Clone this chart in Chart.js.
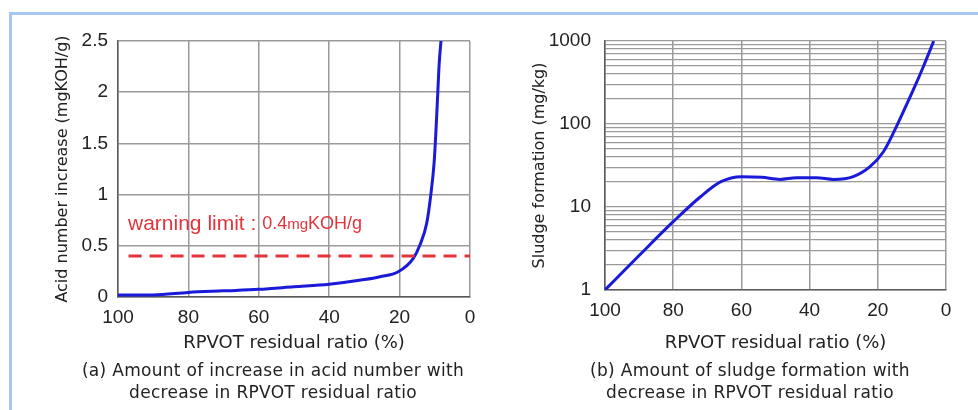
<!DOCTYPE html>
<html>
<head>
<meta charset="utf-8">
<script src="https://cdn.jsdelivr.net/npm/chart.js@4"></script>
<style>
  body { margin:0; background:#fff; width:978px; height:410px; overflow:hidden; position:relative; }
  .frame-top  { position:absolute; left:9px; top:12px; width:969px; height:3px; background:#a7c7f3; }
  .frame-left { position:absolute; left:9px; top:12px; width:3px; height:398px; background:#a7c7f3; }
  canvas { position:absolute; top:0; }
  #chartA { left:0; }
  #chartB { left:490px; }
  .caption { position:absolute; top:359px; font-family:"DejaVu Sans", sans-serif; font-size:17px; letter-spacing:0.3px; line-height:22px; color:#222; text-align:center; white-space:nowrap; }
  #capA { left:40px; width:466px; }
  #capB { left:517px; width:466px; }
</style>
</head>
<body>
<div class="frame-top"></div>
<div class="frame-left"></div>
<canvas id="chartA" width="490" height="360"></canvas>
<canvas id="chartB" width="488" height="360"></canvas>
<div class="caption" id="capA">(a) Amount of increase in acid number with<br>decrease in RPVOT residual ratio</div>
<div class="caption" id="capB">(b) Amount of sludge formation with<br>decrease in RPVOT residual ratio</div>
<script>
// dati (a): aumento numero acido
const rpvotA = [100, 90, 80, 70, 60, 50, 40, 30, 25.6, 20.4, 16.1, 14.2, 12.3, 11.2, 10.2, 9.66, 9.2, 8.75, 8.24];
const acidA  = [0.02, 0.02, 0.045, 0.06, 0.075, 0.1, 0.125, 0.17, 0.198, 0.247, 0.378, 0.51, 0.72, 0.98, 1.31, 1.63, 1.96, 2.28, 2.5];
const limitX = [97, 0];      // estensione linea tratteggiata
const limitY = 0.4;          // warning limit

// dati (b): formazione fanghi (scala log)
const rpvotB  = [100, 90, 80, 72, 66, 60, 54, 48.7, 43.8, 38, 33, 27.2, 22.3, 18.4, 15.5, 12.5, 9.6, 6.65, 3.6];
const sludgeB = [1, 2.6, 6.65, 13.3, 20.2, 23.2, 22.8, 21.5, 22.5, 22.5, 21.5, 23.2, 30.6, 46, 77, 141, 257, 490, 1000];

const xTicks = [100, 80, 60, 40, 20, 0];
const logLabels = [1, 10, 100, 1000];

const FONT  = '"Liberation Sans", Arial, sans-serif';
const TFONT = '"DejaVu Sans", sans-serif';
const BLUE = '#1a1ad8';
const RED  = '#e3333b';
const GRID = '#9a9a9a';
const AXIS = '#5a5a5a';

const pts = (xs, ys) => xs.map((x, i) => ({ x, y: ys[i] }));

function xScale(height){ // asse x comune, invertito 100 -> 0
  return {
    type:'linear', min:0, max:100, reverse:true,
    afterBuildTicks: s => { s.ticks = xTicks.map(v => ({ value:v })); },
    ticks:{ color:'#222', font:{ family:FONT, size:19 }, padding:9 },
    grid:{ color:GRID, lineWidth:1.5, drawTicks:false },
    border:{ color:AXIS, width:1.5 },
    title:{ display:true, text:'RPVOT residual ratio (%)', color:'#222', font:{ family:TFONT, size:18 }, padding:{ top:0, bottom:6 } },
    afterFit: s => { s.height = height; }
  };
}

// etichetta "warning limit" con due dimensioni di carattere
const warningLabel = {
  id:'warningLabel',
  afterDatasetsDraw(chart){
    const { ctx, chartArea } = chart;
    const x = chartArea.left + 10;
    const y = chart.scales.y.getPixelForValue(0.71);
    ctx.save();
    ctx.fillStyle = RED;
    ctx.textBaseline = 'middle';
    ctx.font = '21px ' + FONT;
    const a = 'warning limit : ';
    ctx.fillText(a, x, y);
    let w = ctx.measureText(a).width;
    ctx.font = '18px ' + FONT;
    ctx.fillText('0.4', x + w, y);
    w += ctx.measureText('0.4').width;
    ctx.font = '15px ' + FONT;
    ctx.fillText('mg', x + w, y + 1);
    w += ctx.measureText('mg').width;
    ctx.font = '18px ' + FONT;
    ctx.fillText('KOH/g', x + w, y);
    ctx.restore();
  }
};

new Chart(document.getElementById('chartA'), {
  type:'line',
  data:{
    datasets:[
      { data: pts(limitX, limitX.map(() => limitY)), borderColor:RED, borderWidth:3, borderDash:[13, 8], pointRadius:0, tension:0 },
      { data: pts(rpvotA, acidA), borderColor:BLUE, borderWidth:3, pointRadius:0, cubicInterpolationMode:'monotone' }
    ]
  },
  options:{
    responsive:false, animation:false,
    layout:{ padding:{ top:41, right:20, left:0, bottom:0 } },
    plugins:{ legend:{ display:false }, tooltip:{ enabled:false } },
    scales:{
      x: xScale(63),
      y: {
        type:'linear', min:0, max:2.5,
        ticks:{ stepSize:0.5, color:'#222', font:{ family:FONT, size:19 }, padding:10, callback: v => String(v) },
        grid:{ color:GRID, lineWidth:1.5, drawTicks:false },
        border:{ color:AXIS, width:1.5 },
        title:{ display:true, text:'Acid number increase (mgKOH/g)', color:'#222', font:{ family:TFONT, size:16 }, padding:{ top:53, bottom:0 } },
        afterFit: s => { s.width = 118; }
      }
    }
  },
  plugins:[warningLabel]
});

new Chart(document.getElementById('chartB'), {
  type:'line',
  data:{ datasets:[ { data: pts(rpvotB, sludgeB), borderColor:BLUE, borderWidth:3, pointRadius:0, cubicInterpolationMode:'monotone' } ] },
  options:{
    responsive:false, animation:false,
    layout:{ padding:{ top:41, right:32, left:0, bottom:0 } },
    plugins:{ legend:{ display:false }, tooltip:{ enabled:false } },
    scales:{
      x: xScale(70),
      y: {
        type:'logarithmic', min:1, max:1000,
        afterBuildTicks: s => { // una linea per ogni valore 1..9 di ogni decade
          const t = [];
          for (let d = 1; d < 1000; d *= 10) for (let k = 1; k < 10; k++) t.push({ value:k * d });
          t.push({ value:1000 });
          s.ticks = t;
        },
        ticks:{
          autoSkip:false, color:'#222', font:{ family:FONT, size:19 }, padding:14,
          callback: v => logLabels.includes(v) ? String(v) : ''
        },
        grid:{ color:GRID, lineWidth:1.3, drawTicks:false },
        border:{ color:AXIS, width:1.5 },
        title:{ display:true, text:'Sludge formation (mg/kg)', color:'#222', font:{ family:TFONT, size:16 }, padding:{ top:40, bottom:0 } },
        afterFit: s => { s.width = 115; }
      }
    }
  }
});
</script>
</body>
</html>
